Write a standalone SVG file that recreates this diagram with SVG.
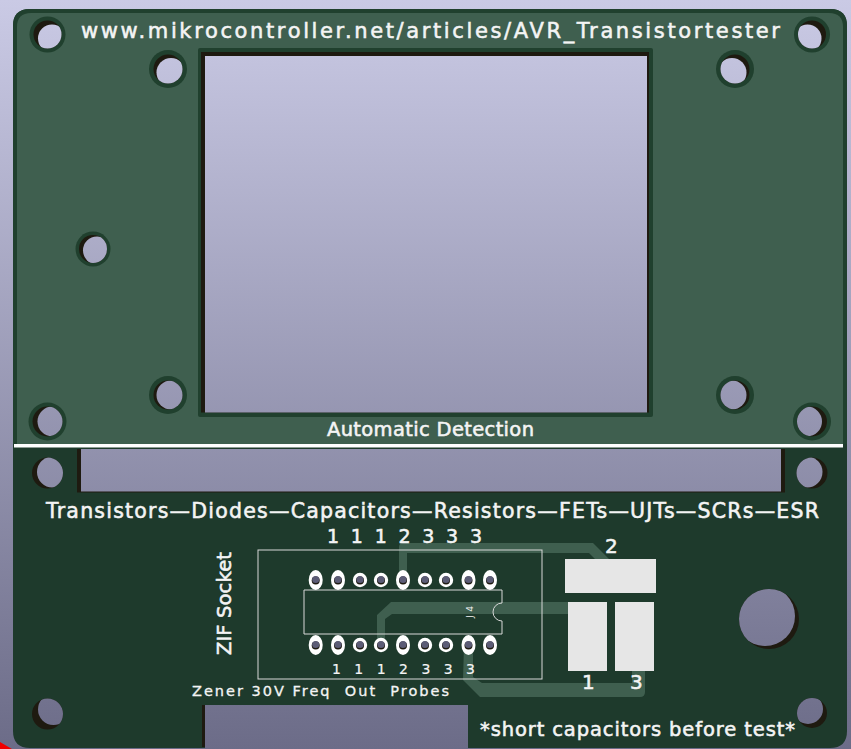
<svg xmlns="http://www.w3.org/2000/svg" width="851" height="749" viewBox="0 0 851 749">
<defs>
<linearGradient id="bg" gradientUnits="userSpaceOnUse" x1="0" y1="0" x2="0" y2="749">
<stop offset="0" stop-color="#cacae5"/><stop offset="1" stop-color="#6c6c88"/>
</linearGradient>
<clipPath id="c-tl"><circle cx="47.5" cy="34.5" r="14"/></clipPath>
<clipPath id="c-tr"><circle cx="812" cy="34.5" r="14"/></clipPath>
<clipPath id="c-il"><circle cx="168" cy="69" r="14.5"/></clipPath>
<clipPath id="c-ir"><circle cx="735" cy="69" r="14.5"/></clipPath>
<clipPath id="c-ml"><circle cx="93" cy="249" r="14"/></clipPath>
<clipPath id="c-bil"><circle cx="168" cy="395" r="14.5"/></clipPath>
<clipPath id="c-bir"><circle cx="735" cy="395" r="14.5"/></clipPath>
<clipPath id="c-bl"><circle cx="47.5" cy="421.5" r="15"/></clipPath>
<clipPath id="c-br"><circle cx="812" cy="421.5" r="15"/></clipPath>
<clipPath id="c-l2"><circle cx="47.5" cy="473" r="15.5"/></clipPath>
<clipPath id="c-r2"><circle cx="812" cy="473" r="15.5"/></clipPath>
<clipPath id="c-l3"><circle cx="47.5" cy="714" r="15.5"/></clipPath>
<clipPath id="c-r3"><circle cx="812" cy="713" r="15"/></clipPath>
<clipPath id="c-big"><circle cx="769" cy="619" r="30"/></clipPath>
</defs>
<style>
.ring{fill:#20402e}
.sh{fill:#1e1a10}
.h{fill:url(#bg)}
.t{fill:#f4f4f4;stroke:#f4f4f4;stroke-width:.55;font-family:"DejaVu Sans","Liberation Sans",sans-serif;white-space:pre}
.tr{fill:#3f5f4f}
.silk{fill:none;stroke:#d8d8d8;stroke-width:1}
.pad{fill:#fff}
.drill{fill:#5c5c76}
.cu{fill:#e6e6e6}
</style>
<rect id="background" width="851" height="749" fill="url(#bg)"/>
<path id="corner" d="M0 742L12 749H0Z" fill="#f00000"/>
<g id="board">
<path fill="#1e3a2c" d="M30 9H830Q847 9 847 26V731Q847 748 830 748H468V705H205V748H30Q13 748 13 731V26Q13 9 30 9Z"/>
<path fill="#20402e" d="M30 9H830Q847 9 847 26V444H13V26Q13 9 30 9Z"/>
<path fill="#3f5f4f" d="M31 13H829Q843 13 843 27V444H17V27Q17 13 31 13Z"/>
<rect x="14" y="444" width="829" height="3.5" fill="#fff"/>
<rect x="202" y="705" width="3" height="42" class="sh"/>
</g>
<g id="display-window">
<rect x="198" y="48" width="455" height="369" rx="2" fill="#20402e"/>
<path class="sh" d="M201 52H649V412.500H201Z"/>
<rect x="205" y="56" width="442" height="356.500" class="h"/>
</g>
<g id="slot">
<rect x="77" y="449" width="708" height="43.500" class="sh"/>
<rect x="81" y="449" width="700" height="42.500" class="h"/>
</g>
<g id="hole-tl"><circle cx="47.5" cy="34.5" r="18" class="ring"/><circle cx="47.5" cy="34.5" r="14" class="sh"/><circle cx="52" cy="38.500" r="14" class="h" clip-path="url(#c-tl)"/></g>
<g id="hole-tr"><circle cx="812" cy="34.5" r="18" class="ring"/><circle cx="812" cy="34.5" r="14" class="sh"/><circle cx="807.5" cy="38.500" r="14" class="h" clip-path="url(#c-tr)"/></g>
<g id="hole-il"><circle cx="168" cy="69" r="19" class="ring"/><circle cx="168" cy="69" r="14.5" class="sh"/><circle cx="171" cy="72.500" r="14.5" class="h" clip-path="url(#c-il)"/></g>
<g id="hole-ir"><circle cx="735" cy="69" r="19" class="ring"/><circle cx="735" cy="69" r="14.5" class="sh"/><circle cx="732" cy="72.500" r="14.5" class="h" clip-path="url(#c-ir)"/></g>
<g id="hole-ml"><circle cx="93" cy="249" r="17.5" class="ring"/><circle cx="93" cy="249" r="14" class="sh"/><circle cx="97" cy="250.5" r="14" class="h" clip-path="url(#c-ml)"/></g>
<g id="hole-bil"><circle cx="168" cy="395" r="19" class="ring"/><circle cx="168" cy="395" r="14.5" class="sh"/><circle cx="171" cy="395" r="14.5" class="h" clip-path="url(#c-bil)"/></g>
<g id="hole-bir"><circle cx="735" cy="395" r="19" class="ring"/><circle cx="735" cy="395" r="14.5" class="sh"/><circle cx="732" cy="395" r="14.5" class="h" clip-path="url(#c-bir)"/></g>
<g id="hole-bl"><circle cx="47.5" cy="421.5" r="19" class="ring"/><circle cx="47.5" cy="421.5" r="15" class="sh"/><circle cx="52.5" cy="421.5" r="15" class="h" clip-path="url(#c-bl)"/></g>
<g id="hole-br"><circle cx="812" cy="421.5" r="19" class="ring"/><circle cx="812" cy="421.5" r="15" class="sh"/><circle cx="807" cy="421.5" r="15" class="h" clip-path="url(#c-br)"/></g>
<g id="hole-l2"><circle cx="47.5" cy="473" r="15.5" class="sh"/><circle cx="52.5" cy="472" r="15.5" class="h" clip-path="url(#c-l2)"/></g>
<g id="hole-r2"><circle cx="812" cy="473" r="15.5" class="sh"/><circle cx="807" cy="472" r="15.5" class="h" clip-path="url(#c-r2)"/></g>
<g id="hole-l3"><circle cx="47.5" cy="714" r="15.5" class="sh"/><circle cx="53.5" cy="709.5" r="15.5" class="h" clip-path="url(#c-l3)"/></g>
<g id="hole-r3"><circle cx="812" cy="713" r="15" class="sh"/><circle cx="808" cy="709" r="15" class="h" clip-path="url(#c-r3)"/></g>
<g id="hole-big"><circle cx="769" cy="619" r="30" class="sh"/><circle cx="765" cy="616" r="30" class="h" clip-path="url(#c-big)"/></g>
<g id="connectors">
<path class="tr" d="M399 580V547Q399 543 403 543H593L609 559H595L589 553H407V580Z"/>
<path class="tr" d="M570 602H391L377 615V645H385V619L392 614H570Z"/>
<path class="tr" d="M464 645H473V677L482 683H632V671H645V692Q645 697 640 697H480L463 680Z"/>
</g>
<g id="zif-socket">
<rect x="258" y="550" width="284" height="129" class="silk"/>
<path class="silk" d="M502 590H304V634H502V621A9 9 0 0 1 502 603Z"/>
</g>
<g id="pins-top">
<g class="pad"><ellipse cx="315.7" cy="580" rx="7" ry="10"/><ellipse cx="338" cy="580" rx="7" ry="10"/><circle cx="360" cy="580" r="7.2"/><circle cx="381" cy="580" r="7.2"/><ellipse cx="403" cy="580" rx="7" ry="10"/><circle cx="425" cy="580" r="7.2"/><circle cx="446" cy="580" r="7.2"/><ellipse cx="468.5" cy="580" rx="7" ry="10"/><ellipse cx="490" cy="580" rx="7" ry="10"/></g>
<g class="sh"><circle cx="315.7" cy="580.5" r="4"/><circle cx="338" cy="580.5" r="4"/><circle cx="360" cy="580.5" r="4"/><circle cx="381" cy="580.5" r="4"/><circle cx="403" cy="580.5" r="4"/><circle cx="425" cy="580.5" r="4"/><circle cx="446" cy="580.5" r="4"/><circle cx="468.5" cy="580.5" r="4"/><circle cx="490" cy="580.5" r="4"/></g>
<g class="drill"><circle cx="315.7" cy="579.5" r="3.6"/><circle cx="338" cy="579.5" r="3.6"/><circle cx="360" cy="579.5" r="3.6"/><circle cx="381" cy="579.5" r="3.6"/><circle cx="403" cy="579.5" r="3.6"/><circle cx="425" cy="579.5" r="3.6"/><circle cx="446" cy="579.5" r="3.6"/><circle cx="468.5" cy="579.5" r="3.6"/><circle cx="490" cy="579.5" r="3.6"/></g>
</g>
<g id="pins-bottom">
<g class="pad"><ellipse cx="315.7" cy="645" rx="7" ry="10"/><ellipse cx="338" cy="645" rx="7" ry="10"/><circle cx="360" cy="645" r="7.2"/><circle cx="381" cy="645" r="7.2"/><ellipse cx="403" cy="645" rx="7" ry="10"/><circle cx="425" cy="645" r="7.2"/><circle cx="446" cy="645" r="7.2"/><ellipse cx="468.5" cy="645" rx="7" ry="10"/><ellipse cx="490" cy="645" rx="7" ry="10"/></g>
<g class="sh"><circle cx="315.7" cy="645.5" r="4"/><circle cx="338" cy="645.5" r="4"/><circle cx="360" cy="645.5" r="4"/><circle cx="381" cy="645.5" r="4"/><circle cx="403" cy="645.5" r="4"/><circle cx="425" cy="645.5" r="4"/><circle cx="446" cy="645.5" r="4"/><circle cx="468.5" cy="645.5" r="4"/><circle cx="490" cy="645.5" r="4"/></g>
<g class="drill"><circle cx="315.7" cy="644.5" r="3.6"/><circle cx="338" cy="644.5" r="3.6"/><circle cx="360" cy="644.5" r="3.6"/><circle cx="381" cy="644.5" r="3.6"/><circle cx="403" cy="644.5" r="3.6"/><circle cx="425" cy="644.5" r="3.6"/><circle cx="446" cy="644.5" r="3.6"/><circle cx="468.5" cy="644.5" r="3.6"/><circle cx="490" cy="644.5" r="3.6"/></g>
</g>
<g id="probe-pads">
<rect x="565" y="559" width="91" height="34" class="cu"/>
<rect x="568" y="602" width="39" height="69" class="cu"/>
<rect x="615" y="602" width="39" height="69" class="cu"/>
</g>
<g id="labels">
<text class="t" x="81" y="38" font-size="21" textLength="699">www.mikrocontroller.net/articles/AVR_Transistortester</text>
<text class="t" x="327" y="436" font-size="19.5" textLength="207">Automatic Detection</text>
<text class="t" x="46" y="518" font-size="20.5" textLength="773">Transistors—Diodes—Capacitors—Resistors—FETs—UJTs—SCRs—ESR</text>
<text class="t" x="327" y="543" font-size="19" textLength="155">1 1 1 2 3 3 3</text>
<text class="t" style="stroke-width:.2" x="332" y="674" font-size="14" textLength="143">1 1 1 2 3 3 3</text>
<text class="t" style="stroke-width:.3" x="192" y="696" font-size="14.5" textLength="257">Zener 30V Freq  Out  Probes</text>
<text class="t" font-size="19.5" textLength="103" transform="translate(231 655) rotate(-90)">ZIF Socket</text>
<text class="t" style="stroke-width:0" font-size="9" textLength="12" transform="translate(473 618) rotate(-90)">J4</text>
<text class="t" x="605" y="553" font-size="20">2</text>
<text class="t" x="582" y="689" font-size="20">1</text>
<text class="t" x="630" y="689" font-size="20">3</text>
<text class="t" x="480" y="736" font-size="19.5" textLength="315">*short capacitors before test*</text>
</g>
</svg>
